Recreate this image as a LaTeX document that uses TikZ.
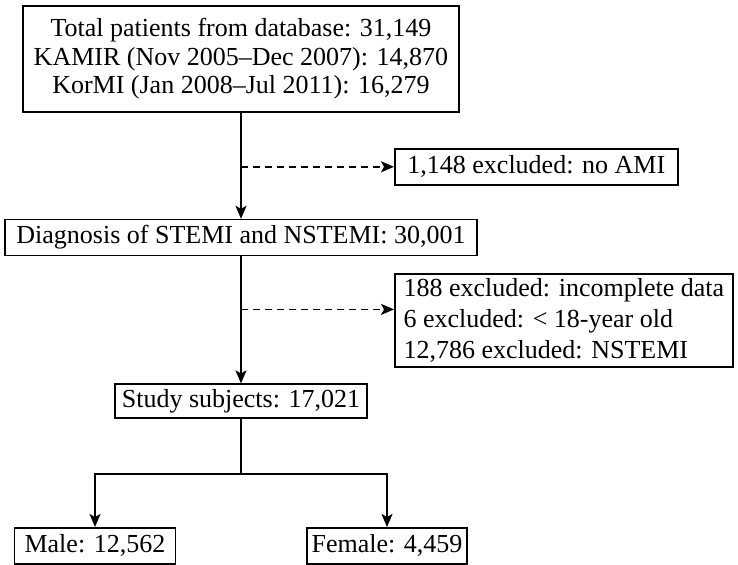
\documentclass[tikz,border=0pt]{standalone}
\usepackage{fontspec}
\setmainfont{Liberation Serif}
\usetikzlibrary{arrows.meta,positioning}

\begin{document}
\begin{tikzpicture}[
  x=1bp, y=1bp,
  font=\fontsize{26bp}{28.5bp}\selectfont,
  node distance=50bp and 150bp,
  box/.style={draw, line width=1.6bp, align=center, inner sep=3bp, minimum height=36bp},
  flow/.style={-{Stealth[length=13bp, width=11bp, inset=3bp]}, line width=1.6bp},
  excl/.style={flow, dash pattern=on 7bp off 5bp}
]
\useasboundingbox (0,0) rectangle (738,-565);
\node[box, minimum width=436bp, minimum height=106bp] (total) at (241,-59) {Total patients from database: 31,149\\ KAMIR (Nov 2005--Dec 2007): 14,870\\ KorMI (Jan 2008--Jul 2011): 16,279};
\coordinate[below=54bp of total] (j1);
\node[box, right=153bp of j1, minimum width=283bp] (noami) {1,148 excluded: no AMI};
\node[box, below=106bp of total, minimum width=472bp] (diag) {Diagnosis of STEMI and NSTEMI: 30,001};
\coordinate[below=53bp of diag] (j2);
\node[box, right=153bp of j2, yshift=-11bp, minimum width=338bp, minimum height=93bp, align=left, font=\fontsize{26bp}{31bp}\selectfont] (drop) {188 excluded: incomplete data\\ 6 excluded: < 18-year old\\ 12,786 excluded: NSTEMI};
\node[box, below=127bp of diag, minimum width=252bp, minimum height=34bp] (study) {Study subjects: 17,021};
\coordinate[below=55bp of study] (j3);
\coordinate[left=146bp of j3] (jm);
\coordinate[right=146bp of j3] (jf);
\node[box, below=53bp of jm, minimum width=161bp] (male) {Male: 12,562};
\node[box, below=53bp of jf, minimum width=160bp] (female) {Female: 4,459};

\draw[flow] (total) -- (diag);
\draw[excl] (j1) -- (noami);
\draw[flow] (diag) -- (study);
\draw[excl] (j2) -- (j2 -| drop.west);
\draw[flow] (study) -- (j3) -| (male);
\draw[flow] (j3) -| (female);
\end{tikzpicture}
\end{document}
